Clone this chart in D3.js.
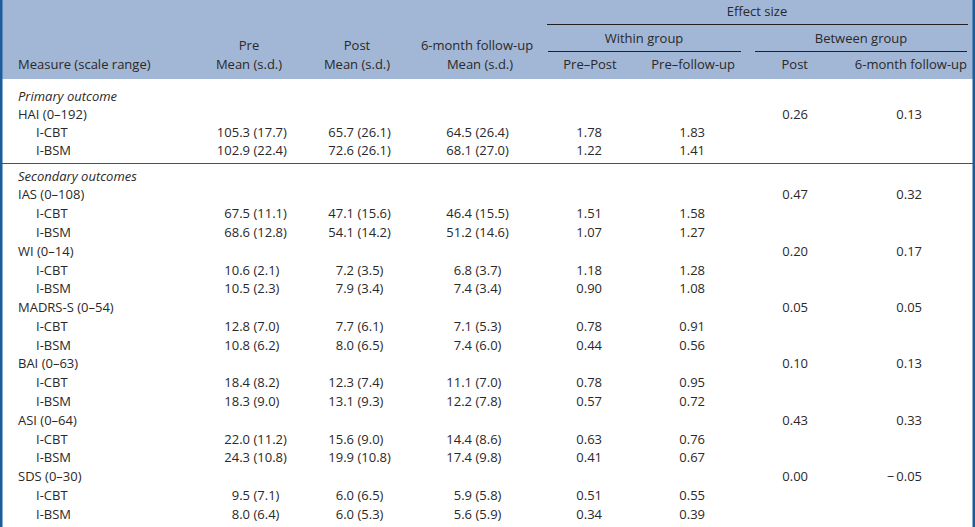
<!DOCTYPE html>
<html>
<head>
<meta charset="utf-8">
<script src="https://cdn.jsdelivr.net/npm/d3@7"></script>
<style>
  body { margin: 0; background: #fff; }
  svg { display: block; }
  text { font-family: "Open Sans", "Liberation Sans", sans-serif; font-size: 13px; fill: #2b2829; }
</style>
</head>
<body>
<div id="chart"></div>
<script>
// Table data
const measures = ["HAI (0–192)", "IAS (0–108)", "WI (0–14)", "MADRS-S (0–54)", "BAI (0–63)", "ASI (0–64)", "SDS (0–30)"];
const groups = ["I-CBT", "I-BSM"];
const preMean = [[105.3, 102.9], [67.5, 68.6], [10.6, 10.5], [12.8, 10.8], [18.4, 18.3], [22.0, 24.3], [9.5, 8.0]];
const preSD = [[17.7, 22.4], [11.1, 12.8], [2.1, 2.3], [7.0, 6.2], [8.2, 9.0], [11.2, 10.8], [7.1, 6.4]];
const postMean = [[65.7, 72.6], [47.1, 54.1], [7.2, 7.9], [7.7, 8.0], [12.3, 13.1], [15.6, 19.9], [6.0, 6.0]];
const postSD = [[26.1, 26.1], [15.6, 14.2], [3.5, 3.4], [6.1, 6.5], [7.4, 9.3], [9.0, 10.8], [6.5, 5.3]];
const fuMean = [[64.5, 68.1], [46.4, 51.2], [6.8, 7.4], [7.1, 7.4], [11.1, 12.2], [14.4, 17.4], [5.9, 5.6]];
const fuSD = [[26.4, 27.0], [15.5, 14.6], [3.7, 3.4], [5.3, 6.0], [7.0, 7.8], [8.6, 9.8], [5.8, 5.9]];
const prePostES = [[1.78, 1.22], [1.51, 1.07], [1.18, 0.90], [0.78, 0.44], [0.78, 0.57], [0.63, 0.41], [0.51, 0.34]];
const preFuES = [[1.83, 1.41], [1.58, 1.27], [1.28, 1.08], [0.91, 0.56], [0.95, 0.72], [0.76, 0.67], [0.55, 0.39]];
const betweenPost = [0.26, 0.47, 0.20, 0.05, 0.10, 0.43, 0.00];
const betweenFu = [0.13, 0.32, 0.17, 0.05, 0.13, 0.33, -0.05];
const sections = ["Primary outcome", "Secondary outcomes"];

const width = 975;
const height = 527;

const svg = d3.select("#chart").append("svg")
    .attr("width", width)
    .attr("height", height);

const f1 = d3.format(".1f");
// effect sizes: a little gap after the minus sign, like the typeset table
const f2 = v => d3.format(".2f")(v).replace("−", "−\u2009");

// Header
const headerH = 79;
svg.append("rect")
    .attr("x", 0).attr("y", 0)
    .attr("width", width).attr("height", headerH)
    .attr("fill", "#a2b7d5");

const hdr = svg.append("g");
function htext(x, y, s, anchor) {
    hdr.append("text").attr("x", x).attr("y", y).attr("text-anchor", anchor || "middle").text(s);
}
htext(757, 16, "Effect size");
htext(644, 43, "Within group");
htext(861, 43, "Between group");
htext(249, 50, "Pre");
htext(357, 50, "Post");
htext(477, 50, "6-month follow-up");
htext(18, 69, "Measure (scale range)", "start");
htext(249, 69, "Mean (s.d.)");
htext(357, 69, "Mean (s.d.)");
htext(480, 69, "Mean (s.d.)");
htext(590, 69, "Pre–Post");
htext(735, 69, "Pre–follow-up", "end");
htext(808, 69, "Post", "end");
htext(967, 69, "6-month follow-up", "end");

[[547, 968, 24.5], [548, 741, 51.5], [755, 967, 51.5]].forEach(([x1, x2, y]) => {
    hdr.append("line")
        .attr("x1", x1).attr("x2", x2).attr("y1", y).attr("y2", y)
        .attr("stroke", "#231f20").attr("stroke-width", 1.2);
});

// Body rows: build a flat list of rows
const rows = [];
sections.forEach((sec, si) => {
    rows.push({ type: "section", label: sec, block: si });
    const idx = si === 0 ? [0] : d3.range(1, measures.length);
    idx.forEach(m => {
        rows.push({ type: "measure", label: measures[m], m, block: si });
        groups.forEach((g, gi) => rows.push({ type: "group", label: g, m, gi, block: si }));
    });
});

// Row baselines
const yPrimary = d3.scaleLinear().domain([0, 1]).range([100.5, 118.7]);
const ySecondary = d3.scaleLinear().domain([0, 1]).range([180.6, 199.38]);
let k0 = 0, k1 = 0;
rows.forEach(r => {
    r.y = r.block === 0 ? yPrimary(k0++) : ySecondary(k1++);
});

// Column anchors (decimal alignment for mean / s.d.)
const meanCols = [
    { x: 250, mean: preMean, sd: preSD },
    { x: 354, mean: postMean, sd: postSD },
    { x: 472, mean: fuMean, sd: fuSD }
];

const body = svg.append("g");

rows.forEach(r => {
    if (r.type === "section") {
        body.append("text").attr("x", 18).attr("y", r.y)
            .style("font-style", "italic").text(r.label);
    } else if (r.type === "measure") {
        body.append("text").attr("x", 18).attr("y", r.y).text(r.label);
        body.append("text").attr("x", 808).attr("y", r.y).attr("text-anchor", "end")
            .text(f2(betweenPost[r.m]));
        body.append("text").attr("x", 922).attr("y", r.y).attr("text-anchor", "end")
            .text(f2(betweenFu[r.m]));
    } else {
        body.append("text").attr("x", 36).attr("y", r.y).text(r.label);
        meanCols.forEach(c => {
            body.append("text").attr("x", c.x).attr("y", r.y).attr("text-anchor", "end")
                .text(f1(c.mean[r.m][r.gi]));
            body.append("text").attr("x", c.x + 3.5).attr("y", r.y)
                .text("(" + f1(c.sd[r.m][r.gi]) + ")");
        });
        body.append("text").attr("x", 602).attr("y", r.y).attr("text-anchor", "end")
            .text(f2(prePostES[r.m][r.gi]));
        body.append("text").attr("x", 705).attr("y", r.y).attr("text-anchor", "end")
            .text(f2(preFuES[r.m][r.gi]));
    }
});

// Separator between primary and secondary outcomes
svg.append("line")
    .attr("x1", 0).attr("x2", width).attr("y1", 163.5).attr("y2", 163.5)
    .attr("stroke", "#1b5c9b").attr("stroke-width", 1.2);

// Side borders
svg.append("rect").attr("x", 0).attr("y", 0).attr("width", 2.5).attr("height", height).attr("fill", "#1b5c9b");
svg.append("rect").attr("x", 972.5).attr("y", 0).attr("width", 2.5).attr("height", height).attr("fill", "#1b5c9b");
</script>
</body>
</html>
